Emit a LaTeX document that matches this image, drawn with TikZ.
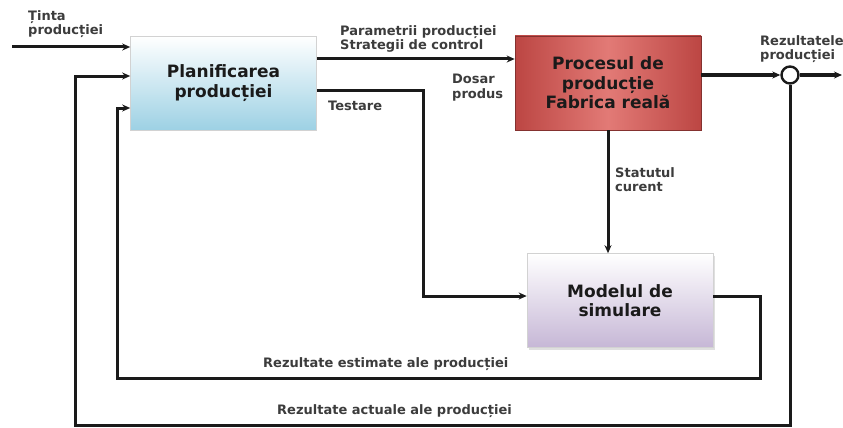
\documentclass[tikz,border=0pt]{standalone}
\usepackage{fontspec}
\setmainfont{DejaVu Sans}
\usetikzlibrary{arrows.meta,shadows}
\definecolor{ink}{HTML}{1A1A1A}
\definecolor{planblue}{HTML}{9DD1E4}
\definecolor{procred}{HTML}{BC4643}
\definecolor{procpink}{HTML}{E27A76}
\definecolor{modlilac}{HTML}{C6B7D6}
\begin{document}
\begin{tikzpicture}[x=1pt,y=-1pt,
  block/.style={minimum width=186pt,minimum height=94pt,inner sep=0pt,align=center,
    font=\fontsize{17}{19.5}\selectfont\bfseries,text=ink,draw=gray!35,line width=0.6pt},
  flow/.style={line width=3pt,draw=ink,-{Stealth[length=8pt,width=7pt]}},
  lbl/.style={font=\fontsize{13}{14.5}\selectfont\bfseries,text=ink!85,inner sep=0pt,
    align=left,anchor=north west}]
\useasboundingbox[fill=white] (0,0) rectangle (843,428);

% blocks
\node[block,top color=white,bottom color=planblue] (plan) at (223.5,83) {Planificarea\\producției};
\node[block,left color=procred,right color=procred,middle color=procpink,draw=procred!70!black]
  (proc) at (608,83) {Procesul de\\producție\\Fabrica reală};
\node[block,top color=white,bottom color=modlilac,drop shadow={opacity=0.25,shadow xshift=2pt,shadow yshift=-2pt}]
  (model) at (620,300.5) {Modelul de\\simulare};
\node[circle,draw=ink,line width=2.4pt,minimum size=17pt,inner sep=0pt,fill=white] (sum) at (790,75) {};

% free ends and corners
\coordinate (goal) at (12,47);
\coordinate (out) at (842,75);
\coordinate (outer) at (75,425);
\coordinate (inner) at (117,378);

% connectors
\draw[flow] (goal) -- ([yshift=36pt]plan.west);
\draw[flow] ([yshift=24pt]plan.east) -- ([yshift=24pt]proc.west);
\draw[flow] ([yshift=-7pt]plan.east) -- ++(107,0) |- ([yshift=4.5pt]model.west);
\draw[flow] ([yshift=8pt]proc.east) -- (sum.west);
\draw[flow] (sum.east) -- (out);
\draw[flow] (proc.south) -- (proc.south |- model.north);
\draw[flow] ([yshift=4.5pt]model.east) -- ++(47,0) |- (inner) |- ([yshift=-25pt]plan.west);
\draw[flow] (sum.south) |- (outer) |- ([yshift=7pt]plan.west);

% labels
\node[lbl] (lgoal) at (28,10) {Ținta\\producției};
\node[lbl] (lparam) at (340,25) {Parametrii producției\\Strategii de control};
\node[lbl] (ldosar) at (452,74) {Dosar\\produs};
\node[lbl] (ltest) at (328,101) {Testare};
\node[lbl] (lstat) at (615,167) {Statutul\\curent};
\node[lbl] (lres) at (760,35) {Rezultatele\\producției};
\node[lbl] (lest) at (263,357) {Rezultate estimate ale producției};
\node[lbl] (lact) at (277,404) {Rezultate actuale ale producției};
\end{tikzpicture}
\end{document}
